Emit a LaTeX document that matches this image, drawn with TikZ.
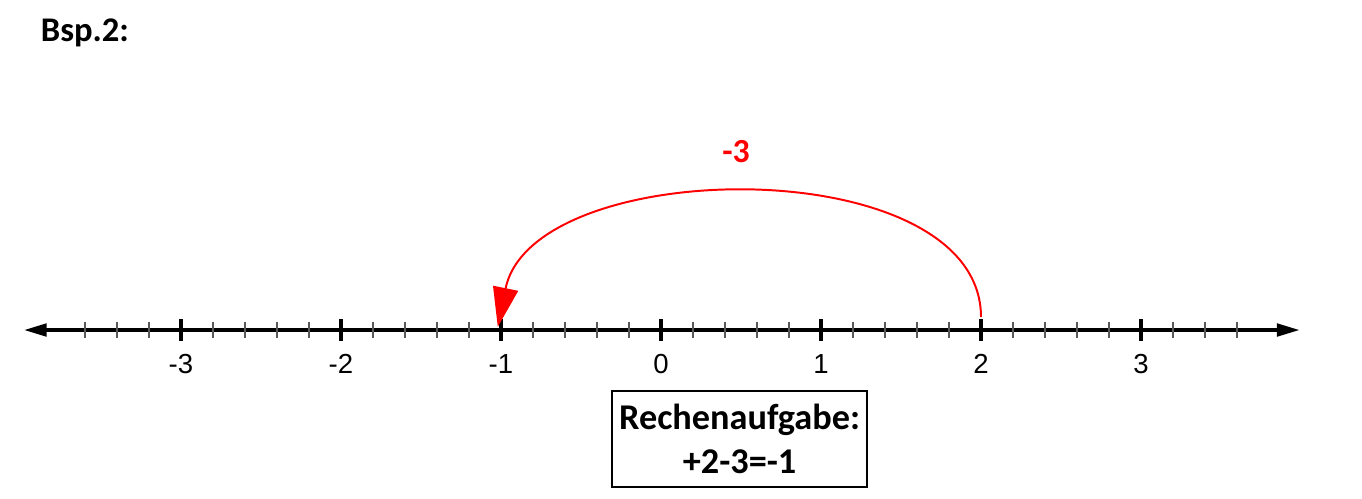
\documentclass[tikz,border=0pt]{standalone}
\usepackage{fontspec}
\setmainfont{Carlito}
\newfontfamily\axisfont{Liberation Sans}
\usetikzlibrary{arrows.meta}

\tikzset{
    lbl/.style={font=\axisfont\fontsize{9.8}{12}\selectfont, inner sep=0pt},
    bold/.style={font=\bfseries\fontsize{#1}{15.6}\selectfont, inner sep=0pt},
}

\begin{document}
\begin{tikzpicture}[x=2cm,y=2cm]
        \useasboundingbox (-4.131,-1.05) rectangle (4.381,2.0625);
        \node[bold=12.3] (title) at (-3.6,1.856) {Bsp.2:};
        % axis
        \coordinate (left) at (-3.98,0);
        \coordinate (right) at (3.99,0);
        \draw[line width=1.1pt, {Triangle[length=8pt,width=4.5pt]}-{Triangle[length=8pt,width=4.5pt]}] (left) -- (right);
        \foreach \x in {-3.6,-3.4,...,3.7}
        \draw[line width=.5pt, black!65] (\x,-.05) -- (\x,.05);
        \foreach \x in {-3,-2,-1,0,1,2,3}
        {\draw[line width=1.2pt] (\x,-.069) -- (\x,.069);
        \node[lbl] (n\x) at (\x,-.2125) {\x};}
        % jump
        \coordinate (from) at (2,.08);
        \coordinate (to) at (-1.02,.02);
        \draw[red, line width=.7pt, -{Triangle[length=14pt,width=9pt]}] (from) .. controls +(0,1.05) and +(.22,1.08) .. (to);
        \node[bold=12, red] (step) at (.469,1.1125) {-3};
        % task
        \node[draw, line width=.7pt, minimum width=3.19cm, minimum height=1.2cm, align=center, bold=12.9] (task) at (.491,-.681) {Rechenaufgabe:\\+2-3=-1};
    \end{tikzpicture}
\end{document}
